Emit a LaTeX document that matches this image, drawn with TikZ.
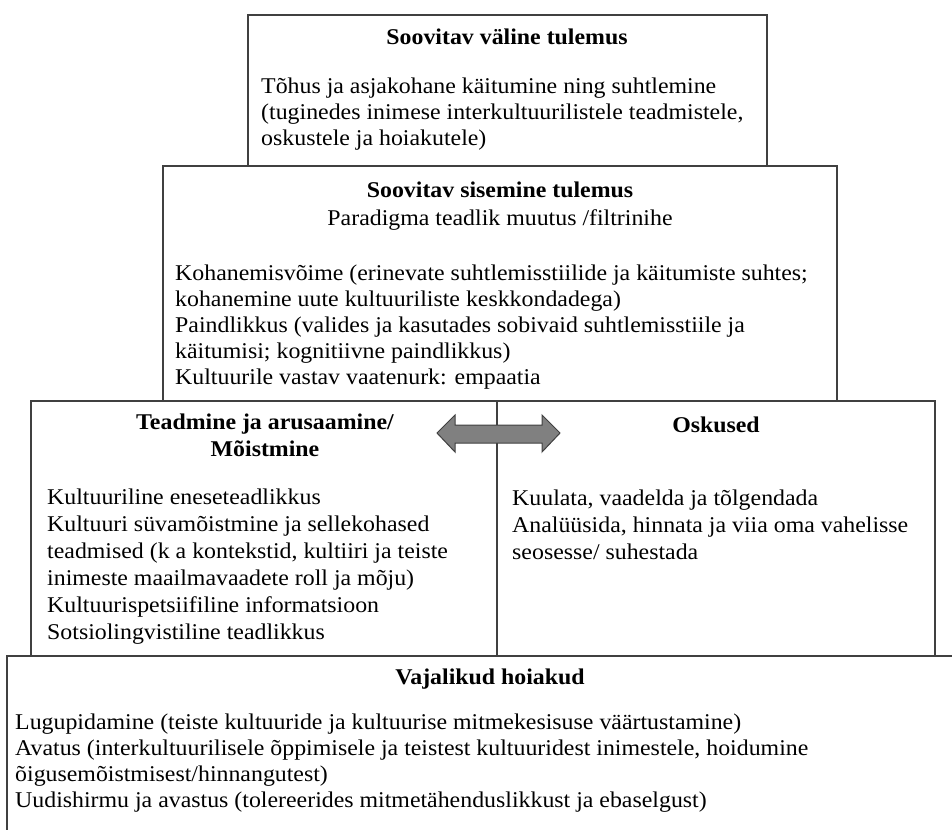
\documentclass[tikz,border=0pt]{standalone}
\usepackage{fontspec}
\setmainfont{Liberation Serif}[FakeStretch=1.06]
\usetikzlibrary{positioning,calc}
\definecolor{FrameGray}{RGB}{64,64,64}
\definecolor{ArrowGray}{RGB}{128,128,128}
\tikzset{
  frame/.style={draw=FrameGray,line width=1.5pt},
  headtext/.style={font=\fontsize{22.5}{27}\selectfont\bfseries,align=center,inner sep=0pt,anchor=base},
  bodytext/.style={font=\fontsize{22.5}{26}\selectfont,align=left,inner sep=0pt,anchor=base west},
}

\begin{document}
\begin{tikzpicture}[x=1pt,y=-1pt]
            \useasboundingbox (0,0) rectangle (952,829);
            \clip (0,0) rectangle (952,829);
            \coordinate (extA) at (248,15);
            \coordinate (extB) at (767,166);
            \coordinate (intA) at (163,166);
            \coordinate (intB) at (837,401);
            \coordinate (knowA) at (31,401);
            \coordinate (knowB) at (497,656);
            \coordinate (skillA) at (497,401);
            \coordinate (skillB) at (935,656);
            \coordinate (attA) at (7,656);
            \coordinate (attB) at (973,900);
            \draw[frame] (extA) rectangle (extB);
            \draw[frame] (intA) rectangle (intB);
            \draw[frame] (knowA) rectangle (knowB);
            \draw[frame] (skillA) rectangle (skillB);
            \draw[frame] (attA) rectangle (attB);
            % texts (body nodes sit on the baseline of their last line)
            \node[headtext] (exthead) at (507,45) {Soovitav väline tulemus};
            \node[bodytext] (extbody) at (261,146) {Tõhus ja asjakohane käitumine ning suhtlemine\\(tuginedes inimese interkultuurilistele teadmistele,\\oskustele ja hoiakutele)};
            \node[headtext] (inthead) at (500,197) {Soovitav sisemine tulemus};
            \node[headtext,font=\fontsize{22.5}{27}\selectfont] (intsub) at (500,225) {Paradigma teadlik muutus /filtrinihe};
            \node[bodytext] (intbody) at (175,384) {Kohanemisvõime (erinevate suhtlemisstiilide ja käitumiste suhtes;\\kohanemine uute kultuuriliste keskkondadega)\\Paindlikkus (valides ja kasutades sobivaid suhtlemisstiile ja\\käitumisi; kognitiivne paindlikkus)\\Kultuurile vastav vaatenurk: empaatia};
            \node[headtext] (knowhead) at (265,456) {Teadmine ja arusaamine/\\Mõistmine};
            \node[bodytext,font=\fontsize{22.5}{27}\selectfont] (knowbody) at (47,639) {Kultuuriline eneseteadlikkus\\Kultuuri süvamõistmine ja sellekohased\\teadmised (k a kontekstid, kultiiri ja teiste\\inimeste maailmavaadete roll ja mõju)\\Kultuurispetsiifiline informatsioon\\Sotsiolingvistiline teadlikkus};
            \node[headtext] (skillhead) at (716,432) {Oskused};
            \node[bodytext,font=\fontsize{22.5}{27}\selectfont] (skillbody) at (512,559) {Kuulata, vaadelda ja tõlgendada\\Analüüsida, hinnata ja viia oma vahelisse\\seosesse/ suhestada};
            \node[headtext] (atthead) at (490,684) {Vajalikud hoiakud};
            \node[bodytext] (attbody) at (15,807) {Lugupidamine (teiste kultuuride ja kultuurise mitmekesisuse väärtustamine)\\Avatus (interkultuurilisele õppimisele ja teistest kultuuridest inimestele, hoidumine\\õigusemõistmisest/hinnangutest)\\Uudishirmu ja avastus (tolereerides mitmetähenduslikkust ja ebaselgust)};
            % double arrow
            \coordinate (tipL) at (437,433);
            \coordinate (tipR) at (560,433);
            \draw[draw=FrameGray,fill=ArrowGray,line width=1pt] (tipL) -- (455,415) -- (455,425) -- (542,425) -- (542,415)
                -- (tipR) -- (542,452) -- (542,443) -- (455,443) -- (455,452) -- cycle;
        \end{tikzpicture}
\end{document}
